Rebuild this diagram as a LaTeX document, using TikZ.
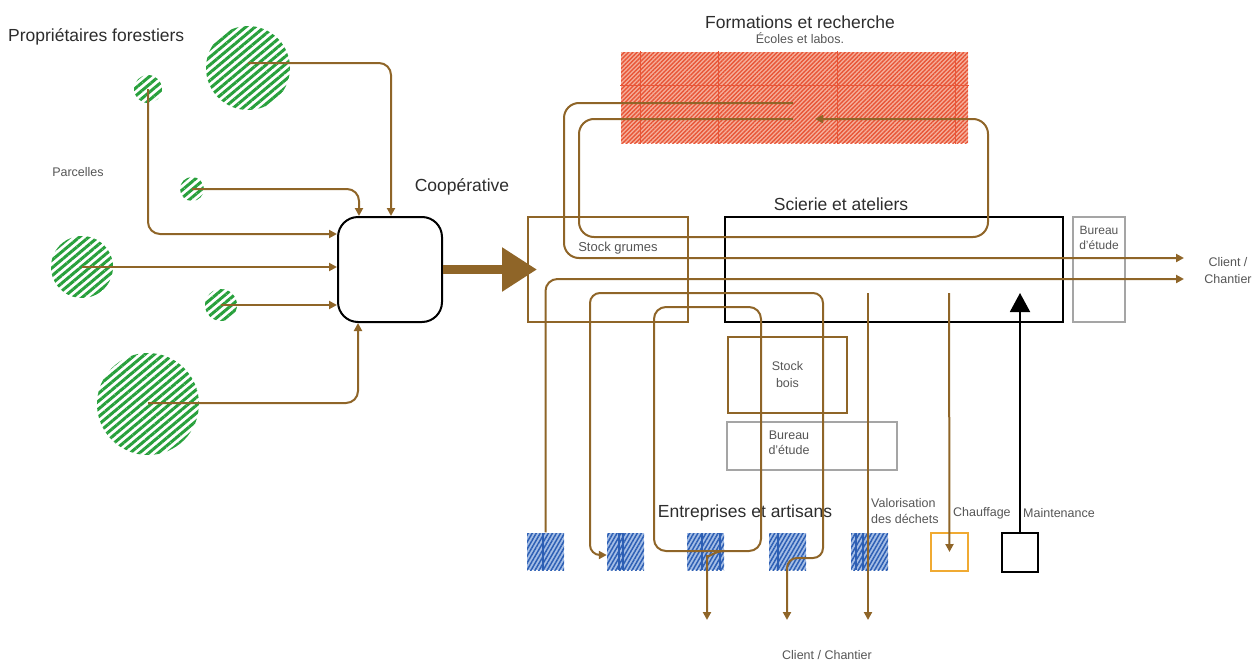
\documentclass[tikz,border=0pt]{standalone}
\usepackage{fontspec}
\setmainfont{Liberation Sans}
\usetikzlibrary{arrows.meta,patterns.meta}
\definecolor{brn}{RGB}{143,101,40}
\definecolor{grn}{RGB}{40,160,60}
\definecolor{redl}{RGB}{245,175,155}
\definecolor{redd}{RGB}{232,85,55}
\definecolor{bluel}{RGB}{165,190,230}
\definecolor{blued}{RGB}{45,95,180}
\definecolor{grayb}{RGB}{165,165,165}
\definecolor{orng}{RGB}{240,170,50}
\definecolor{titlec}{RGB}{45,45,45}
\definecolor{smallc}{RGB}{85,85,85}
\begin{document}
\begin{tikzpicture}[x=1pt,y=-1pt,
  flow/.style={draw=brn,line width=2pt,rounded corners=12pt,-{Triangle[length=8pt,width=8pt]}},
  plain/.style={draw=brn,line width=2pt,rounded corners=12pt},
  title/.style={font=\fontsize{17.5}{20}\selectfont,text=titlec,inner sep=0pt},
  small/.style={font=\fontsize{12.5}{15.5}\selectfont,text=smallc,inner sep=0pt,align=center},
  parcel/.style={circle,inner sep=0pt,pattern={Lines[angle=40,distance=6pt,line width=3pt]},pattern color=grn},
  entr/.style={rectangle,inner sep=0pt,minimum width=37pt,minimum height=37pt,
    preaction={fill=bluel},pattern={Lines[angle=60,distance=3.5pt,line width=1.5pt]},pattern color=blued},
  box/.style={rectangle,inner sep=0pt,line width=2pt},
]
\useasboundingbox (0,0) rectangle (1256,664);

% ---- Formation box
\node[box,minimum width=347pt,minimum height=91pt,preaction={fill=redl},
  pattern={Lines[angle=45,distance=3pt,line width=1.4pt]},pattern color=redd] (fr) at (794.5,97.5) {};
\foreach \gx in {640,718,837,955}
  \draw[redd,line width=1pt] (fr.north -| \gx,0) -- (fr.south -| \gx,0);
\draw[redd,line width=1pt] (fr.west |- 0,85) -- (fr.east |- 0,85);
\node[title] (frt) at (800,22) {Formations et recherche};
\node[small] (frs) at (800,38) {Écoles et labos.};

% ---- Parcels
\node[parcel,minimum size=84pt] (c1) at (248,68) {};
\node[parcel,minimum size=28pt] (c2) at (148,89) {};
\node[parcel,minimum size=24pt] (c5) at (192,189) {};
\node[parcel,minimum size=62pt] (c3) at (82,267) {};
\node[parcel,minimum size=32pt] (c4) at (221,305) {};
\node[parcel,minimum size=102pt] (c6) at (148,404) {};
\node[title,anchor=west] (pf) at (8,37) {Propriétaires forestiers};
\node[small] (pa) at (78,172) {Parcelles};

% ---- Cooperative
\node[box,draw=black,rounded corners=20pt,minimum width=104pt,minimum height=105pt] (coop) at (390,269.5) {};
\node[title] (coopt) at (462,187) {Coopérative};

\draw[flow] ([yshift=5pt]c1.center) -| ([xshift=1pt]coop.north);
\draw[flow] (c5.center) -| ([xshift=-31pt]coop.north);
\draw[flow] (c2.center) |- ([yshift=35.5pt]coop.west);
\draw[flow] (c3.center) -- (coop.west |- c3.center);
\draw[flow] (c4.center) -- (coop.west |- c4.center);
\draw[flow] ([yshift=1pt]c6.center) -| ([xshift=-32pt]coop.south);

% ---- Boxes
\node[box,draw=brn,minimum width=160pt,minimum height=105pt] (sg) at (608,269.5) {};
\node[small,font=\fontsize{13}{15}\selectfont] (sgt) at (618,248) {Stock grumes};
\node[box,draw=black,minimum width=338pt,minimum height=105pt] (sc) at (894,269.5) {};
\node[title] (sct) at (841,204) {Scierie et ateliers};
\node[box,draw=grayb,minimum width=52pt,minimum height=105pt] (br) at (1099,269.5) {};
\node[small,font=\fontsize{12}{15}\selectfont] (brt) at (1099,237.5) {Bureau\\d’étude};
\node[box,draw=brn,minimum width=119pt,minimum height=76pt,small,font=\fontsize{12.5}{17}\selectfont] (sb) at (787.5,375) {Stock\\bois};
\node[box,draw=grayb,minimum width=170pt,minimum height=48pt] (bb) at (812,446) {};
\node[small,font=\fontsize{12.5}{15}\selectfont] (bbt) at (789,442.5) {Bureau\\d’étude};

% ---- big arrow
\draw[brn,line width=9pt,-{Triangle[length=35pt,width=42pt]}] (coop.east) -- ([xshift=10pt]sg.west);

% ---- bottom actors
\node[entr] (s1) at (545.5,551.5) {};
\node[entr] (s2) at (625.5,551.5) {};
\node[entr] (s3) at (705.5,551.5) {};
\node[entr] (s4) at (787.5,551.5) {};
\node[entr] (s5) at (869.5,551.5) {};
\foreach \sx in {543,619,623,702,720,778,856,863}
  \draw[blued,line width=1.3pt] (\sx,533) -- (\sx,570);
\node[box,draw=orng,minimum width=37pt,minimum height=38pt] (ch) at (949.5,552) {};
\node[box,draw=black,minimum width=36pt,minimum height=39pt] (mt) at (1020,552.5) {};

\node[title] (ea) at (745,513) {Entreprises et artisans};
\node[small,anchor=west,align=left] (vd) at (871,511) {Valorisation\\des déchets};
\node[small,anchor=west] (chf) at (953,513) {Chauffage};
\node[small,anchor=west] (mtt) at (1023,513) {Maintenance};
\node[small] (cc) at (827,655) {Client / Chantier};
\node[small,font=\fontsize{12.5}{17}\selectfont] (cr) at (1228,270.5) {Client /\\Chantier};

% ---- coordinates for free ends
\coordinate (fA) at (793,103);
\coordinate (fB) at (793,119);
\coordinate (fC) at (815,119);
\coordinate (oA) at (1184,258);
\coordinate (oB) at (1184,279);
\coordinate (d1) at (707,620);
\coordinate (d2) at (787,620);
\coordinate (d3) at (868,620);
\coordinate (pF) at (868,293);
\coordinate (pG) at (949,293);
\coordinate (pH) at (1020,293);

% ---- flows
\draw[flow,rounded corners=15pt] (fA) -| (564,258) -- (oA);
\draw[flow,rounded corners=15pt] (fB) -| (579,237) -| (988,119) -- (fC);
\draw[flow] (s1.north) |- (oB);
\draw[flow,rounded corners=10pt,{Triangle[length=8pt,width=8pt]}-{Triangle[length=8pt,width=8pt]}]
  (s2.west |- 0,555) -| (590,293) -| (823,558) -| (d2);
\draw[plain,rounded corners=12pt] (654,307) rectangle (761,551);
\draw[flow] (724,551) to[out=180,in=90] (707,568) -- (d1);
\draw[flow] (pF) -- (d3);
\draw[flow] (pG) -- (ch.center);
\draw[black,line width=2pt,-{Triangle[length=19pt,width=20pt]}] (mt.north) -- (pH);
\end{tikzpicture}
\end{document}
